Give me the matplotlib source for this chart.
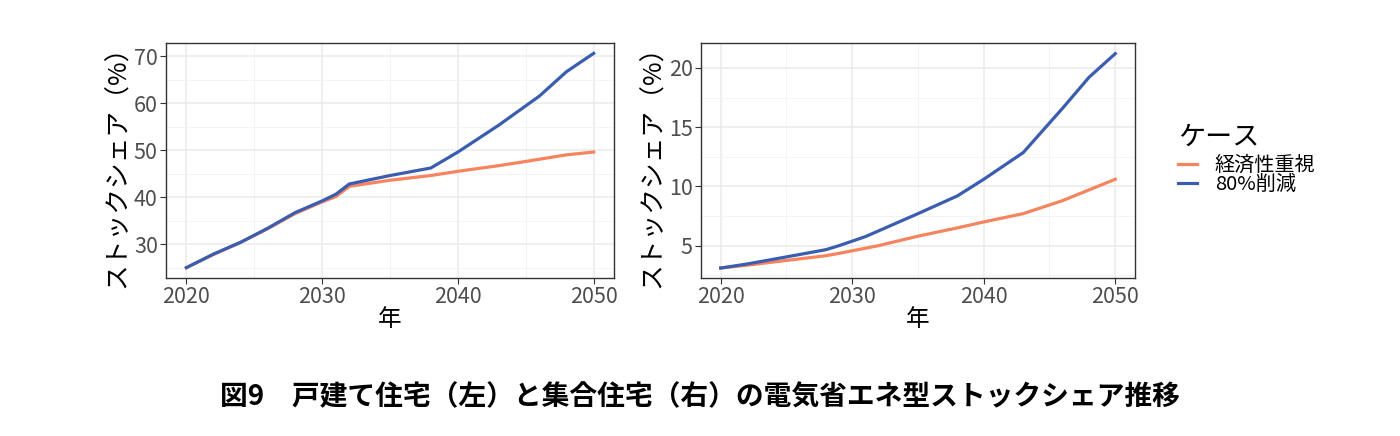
import matplotlib
matplotlib.use("Agg")
import matplotlib.pyplot as plt
from matplotlib.ticker import MultipleLocator
from matplotlib.lines import Line2D

plt.rcParams['font.family'] = ['Noto Sans CJK JP', 'DejaVu Sans']

# Left: detached houses
left_years_econ = [2020, 2022, 2024, 2026, 2028, 2030, 2031, 2032, 2035, 2038, 2040, 2043, 2045, 2048, 2050]
left_econ = [25.0, 27.8, 30.4, 33.3, 36.5, 39.0, 40.1, 42.3, 43.6, 44.6, 45.5, 46.7, 47.6, 49.0, 49.6]
left_years_cut = [2020, 2022, 2024, 2026, 2028, 2030, 2031, 2032, 2035, 2038, 2040, 2043, 2046, 2048, 2050]
left_cut = [25.0, 27.9, 30.4, 33.4, 36.7, 39.2, 40.6, 42.8, 44.6, 46.2, 49.6, 55.3, 61.5, 66.7, 70.6]

# Right: apartments
right_years_econ = [2020, 2022, 2025, 2028, 2029, 2032, 2035, 2038, 2040, 2043, 2046, 2048, 2050]
right_econ = [3.11, 3.35, 3.75, 4.15, 4.35, 5.0, 5.8, 6.5, 7.0, 7.7, 8.8, 9.7, 10.6]
right_years_cut = [2020, 2022, 2025, 2028, 2029, 2031, 2035, 2038, 2040, 2043, 2046, 2048, 2050]
right_cut = [3.11, 3.45, 4.05, 4.66, 5.0, 5.76, 7.7, 9.2, 10.6, 12.85, 16.6, 19.2, 21.2]

series_names = ['経済性重視', '80%削減']
colors = ['#F5845F', '#3A5DB0']

ylabel = 'ストックシェア（%）'
xlabel = '年'
caption = '図9　戸建て住宅（左）と集合住宅（右）の電気省エネ型ストックシェア推移'

fig = plt.figure(figsize=(14, 4.36), dpi=100)
ax1 = fig.add_axes([0.1186, 0.3624, 0.3200, 0.5390])
ax2 = fig.add_axes([0.5007, 0.3624, 0.3100, 0.5390])

def style(ax, ylim, ymaj, ymin):
    ax.set_xlim(2018.5, 2051.5)
    ax.set_ylim(*ylim)
    ax.xaxis.set_major_locator(MultipleLocator(10))
    ax.xaxis.set_minor_locator(MultipleLocator(5))
    ax.yaxis.set_major_locator(MultipleLocator(ymaj))
    ax.yaxis.set_minor_locator(MultipleLocator(ymin))
    ax.grid(which='major', color='#EBEBEB', linewidth=1.1)
    ax.grid(which='minor', color='#F2F2F2', linewidth=0.6)
    ax.set_axisbelow(True)
    for s in ax.spines.values():
        s.set_color('#333333')
        s.set_linewidth(1.0)
    ax.tick_params(which='major', labelsize=15.5, labelcolor='#4D4D4D', color='#333333', length=4, pad=2)
    ax.tick_params(which='minor', length=0)
    ax.set_xlabel(xlabel, fontsize=17, labelpad=0)
    ax.set_ylabel(ylabel, fontsize=18.5, labelpad=2)

ax1.plot(left_years_econ, left_econ, color=colors[0], lw=2.3)
ax1.plot(left_years_cut, left_cut, color=colors[1], lw=2.3)
style(ax1, (22.8, 72.8), 10, 5)

ax2.plot(right_years_econ, right_econ, color=colors[0], lw=2.3)
ax2.plot(right_years_cut, right_cut, color=colors[1], lw=2.3)
style(ax2, (2.27, 22.1), 5, 2.5)

handles = [Line2D([0], [0], color=c, lw=2.3) for c in colors]
leg = fig.legend(handles, series_names, title='ケース', loc='upper left',
                 bbox_to_anchor=(0.836, 0.735), frameon=False, fontsize=14.5,
                 title_fontsize=19.5, handlelength=0.9, handletextpad=0.9,
                 labelspacing=-0.1, borderaxespad=0)
leg._legend_box.align = 'left'
leg._legend_box.sep = 3

fig.text(0.5, 0.09, caption, ha='center', va='center', fontsize=20, fontweight='bold')

fig.savefig('out.png', dpi=100)
